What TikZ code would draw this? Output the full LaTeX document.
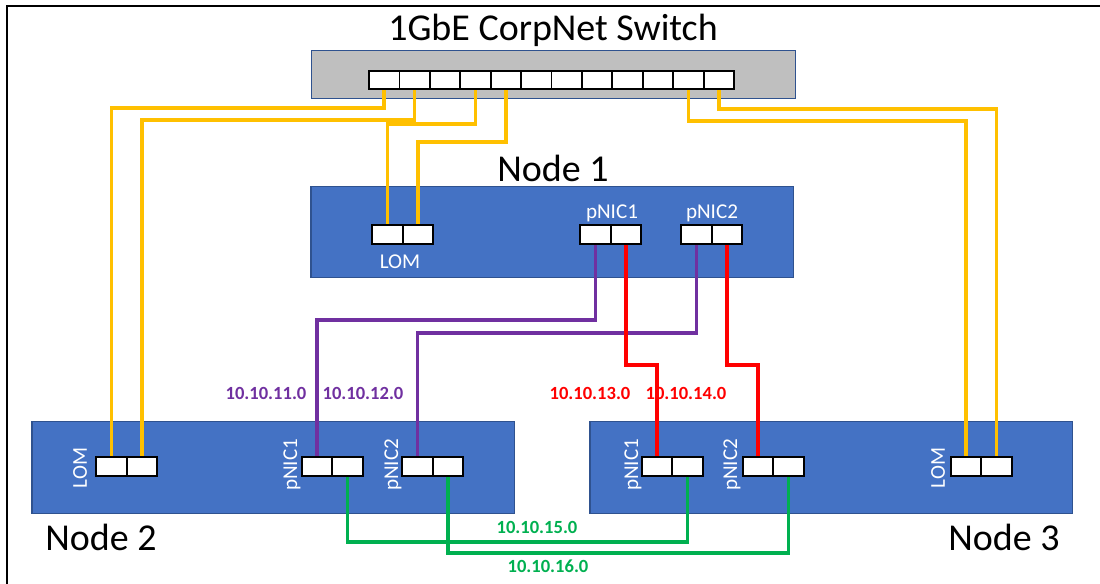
\documentclass[tikz,border=0pt]{standalone}
\usepackage{fontspec}
\setmainfont{Carlito}
\definecolor{nodeblue}{HTML}{4472C4}
\definecolor{edgeblue}{HTML}{2F528F}
\definecolor{swgray}{HTML}{BFBFBF}
\definecolor{cyellow}{HTML}{FFC000}
\definecolor{cpurple}{HTML}{7030A0}
\definecolor{cred}{HTML}{FF0000}
\definecolor{cgreen}{HTML}{00B050}
\begin{document}
\begin{tikzpicture}[x=0.025cm,y=-0.025cm,
  box/.style={draw=edgeblue,line width=0.8pt,fill=nodeblue,minimum width=12.05cm,minimum height=2.28cm,inner sep=0},
  swbox/.style={draw=edgeblue,line width=0.8pt,fill=swgray,minimum width=12.08cm,minimum height=1.22cm,inner sep=0},
  port/.style={draw=black,fill=white,line width=1.3pt,minimum width=0.76cm,minimum height=0.47cm,inner sep=0},
  cable/.style={line width=2.6pt},
  ycable/.style={cable,draw=cyellow},
  pcable/.style={cable,draw=cpurple},
  rcable/.style={cable,draw=cred},
  gcable/.style={cable,draw=cgreen},
  big/.style={font=\fontsize{27}{30}\selectfont,inner sep=0},
  small/.style={font=\fontsize{15}{17}\selectfont,text=white,inner sep=0},
  ip/.style={font=\fontsize{13.2}{15}\selectfont\bfseries,inner sep=0}
]
\useasboundingbox (0,0) rectangle (1100,584);
\draw[line width=1pt] (7,584) -- (7,6) -- (1100,6);

% titles
\node[big] (title) at (553,30) {1GbE CorpNet Switch};
\node[big] (lab1) at (553,168) {Node 1};
\node[big] (lab2) at (101,537) {Node 2};
\node[big] (lab3) at (1004,537) {Node 3};

% boxes
\node[swbox] (switch) at (553.5,74.5) {};
\node[box] (node1) at (552,232) {};
\node[box] (node2) at (273,467.5) {};
\node[box] (node3) at (831,467.5) {};

% switch ports
\foreach \i in {0,...,11}
  \node[port] (sw\i) at ({369+30.42*(\i+0.5)},80) {};

% node 1 ports
\node[port] (n1l1) at (387.5,234.5) {};
\node[port] (n1l2) at (418,234.5) {};
\node[port] (n1p1a) at (595.5,234.5) {};
\node[port] (n1p1b) at (626,234.5) {};
\node[port] (n1p2a) at (696.5,234.5) {};
\node[port] (n1p2b) at (727,234.5) {};

% node 2 ports
\node[port] (n2l1) at (111.5,466.5) {};
\node[port] (n2l2) at (142,466.5) {};
\node[port] (n2p1a) at (317,466.5) {};
\node[port] (n2p1b) at (347.5,466.5) {};
\node[port] (n2p2a) at (417.5,466.5) {};
\node[port] (n2p2b) at (448,466.5) {};

% node 3 ports
\node[port] (n3p1a) at (657,466.5) {};
\node[port] (n3p1b) at (687.5,466.5) {};
\node[port] (n3p2a) at (758,466.5) {};
\node[port] (n3p2b) at (788.5,466.5) {};
\node[port] (n3l1) at (966,466.5) {};
\node[port] (n3l2) at (996.5,466.5) {};

% port labels
\node[small] (n1lomlab) at (400,262) {LOM};
\node[small] (n1p1lab) at (612,213) {pNIC1};
\node[small] (n1p2lab) at (712,213) {pNIC2};
\node[small,rotate=90] (n2lomlab) at (80,468) {LOM};
\node[small,rotate=90] (n2p1lab) at (292,465) {pNIC1};
\node[small,rotate=90] (n2p2lab) at (393,465) {pNIC2};
\node[small,rotate=90] (n3p1lab) at (633,465) {pNIC1};
\node[small,rotate=90] (n3p2lab) at (732,465) {pNIC2};
\node[small,rotate=90] (n3lomlab) at (938,468) {LOM};

% yellow cables
\draw[ycable] (sw0.south) -- (sw0.south |- 0,108) -| (n2l1.north);
\draw[ycable] (sw1.south) -- (sw1.south |- 0,120) -| (n2l2.north);
\draw[ycable] (sw3.south) -- (sw3.south |- 0,124) -| (n1l1.north);
\draw[ycable] (sw4.south) -- (sw4.south |- 0,142) -| (n1l2.north);
\draw[ycable] (sw10.south) -- (sw10.south |- 0,121) -| (n3l1.north);
\draw[ycable] (sw11.south) -- (sw11.south |- 0,109) -| (n3l2.north);

% purple cables
\draw[pcable] (n1p1a.south) -- (n1p1a.south |- 0,320) -| (n2p1a.north);
\draw[pcable] (n1p2a.south) -- (n1p2a.south |- 0,333) -| (n2p2a.north);

% red cables
\draw[rcable] (n1p1b.south) -- (n1p1b.south |- 0,365) -| (n3p1a.north);
\draw[rcable] (n1p2b.south) -- (n1p2b.south |- 0,365) -| (n3p2a.north);

% green cables
\draw[gcable] (n2p1b.south) -- (n2p1b.south |- 0,542) -| (n3p1b.south);
\draw[gcable] (n2p2b.south) -- (n2p2b.south |- 0,553) -| (n3p2b.south);

% subnet labels
\node[ip,text=cpurple] (ip11) at (266,393) {10.10.11.0};
\node[ip,text=cpurple] (ip12) at (363,393) {10.10.12.0};
\node[ip,text=cred] (ip13) at (590,393) {10.10.13.0};
\node[ip,text=cred] (ip14) at (686,393) {10.10.14.0};
\node[ip,text=cgreen] (ip15) at (537,527) {10.10.15.0};
\node[ip,text=cgreen] (ip16) at (548,566) {10.10.16.0};
\end{tikzpicture}
\end{document}
